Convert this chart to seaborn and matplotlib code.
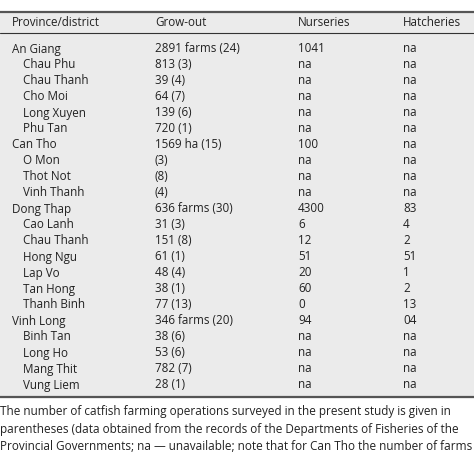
import matplotlib
matplotlib.use("Agg")
import matplotlib.pyplot as plt
import seaborn as sns

sns.set_style("white")
plt.rcParams['font.family'] = ['Open Sans', 'DejaVu Sans']

header = ["Province/district", "Grow-out", "Nurseries", "Hatcheries"]
names = ["An Giang", "Chau Phu", "Chau Thanh", "Cho Moi", "Long Xuyen", "Phu Tan",
         "Can Tho", "O Mon", "Thot Not", "Vinh Thanh",
         "Dong Thap", "Cao Lanh", "Chau Thanh", "Hong Ngu", "Lap Vo", "Tan Hong", "Thanh Binh",
         "Vinh Long", "Binh Tan", "Long Ho", "Mang Thit", "Vung Liem"]
is_province = [True, False, False, False, False, False,
               True, False, False, False,
               True, False, False, False, False, False, False,
               True, False, False, False, False]
growout = ["2891 farms (24)", "813 (3)", "39 (4)", "64 (7)", "139 (6)", "720 (1)",
           "1569 ha (15)", "(3)", "(8)", "(4)",
           "636 farms (30)", "31 (3)", "151 (8)", "61 (1)", "48 (4)", "38 (1)", "77 (13)",
           "346 farms (20)", "38 (6)", "53 (6)", "782 (7)", "28 (1)"]
nurseries = ["1041", "na", "na", "na", "na", "na",
             "100", "na", "na", "na",
             "4300", "6", "12", "51", "20", "60", "0",
             "94", "na", "na", "na", "na"]
hatcheries = ["na", "na", "na", "na", "na", "na",
              "na", "na", "na", "na",
              "83", "4", "2", "51", "1", "2", "13",
              "04", "na", "na", "na", "na"]
footnote = ["The number of catfish farming operations surveyed in the present study is given in",
            "parentheses (data obtained from the records of the Departments of Fisheries of the",
            "Provincial Governments; na \u2014 unavailable; note that for Can Tho the number of farms"]

W, H = 474, 453
fig = plt.figure(figsize=(W/100, H/100), dpi=100)
ax = fig.add_axes([0, 0, 1, 1])
ax.set_xlim(0, W)
ax.set_ylim(H, 0)
ax.axis("off")

ax.add_patch(plt.Rectangle((0, 12), W, 385, color="#ebebeb", zorder=0))
ax.plot([0, W], [12, 12], color="#555555", lw=1.6)
ax.plot([0, W], [33, 33], color="#333333", lw=0.8)
ax.plot([0, W], [397, 397], color="#555555", lw=1.6)

fs = 8.4
cols_x = [12, 155, 298, 403]
for x, t in zip(cols_x, header):
    ax.text(x, 22.5, t, fontsize=fs, va="center", color="#222222")

y0, dy = 49, (385 - 49) / (len(names) - 1)
for i, (n, p, g, nu, h) in enumerate(zip(names, is_province, growout, nurseries, hatcheries)):
    y = y0 + i * dy
    ax.text(12 if p else 23, y, n, fontsize=fs, va="center", color="#222222")
    ax.text(cols_x[1], y, g, fontsize=fs, va="center", color="#222222")
    ax.text(cols_x[2], y, nu, fontsize=fs, va="center", color="#222222")
    ax.text(cols_x[3], y, h, fontsize=fs, va="center", color="#222222")

for j, line in enumerate(footnote):
    ax.text(0, 411 + j * 18, line, fontsize=8.5, va="center", color="#222222")

fig.savefig("out.png", dpi=100)
